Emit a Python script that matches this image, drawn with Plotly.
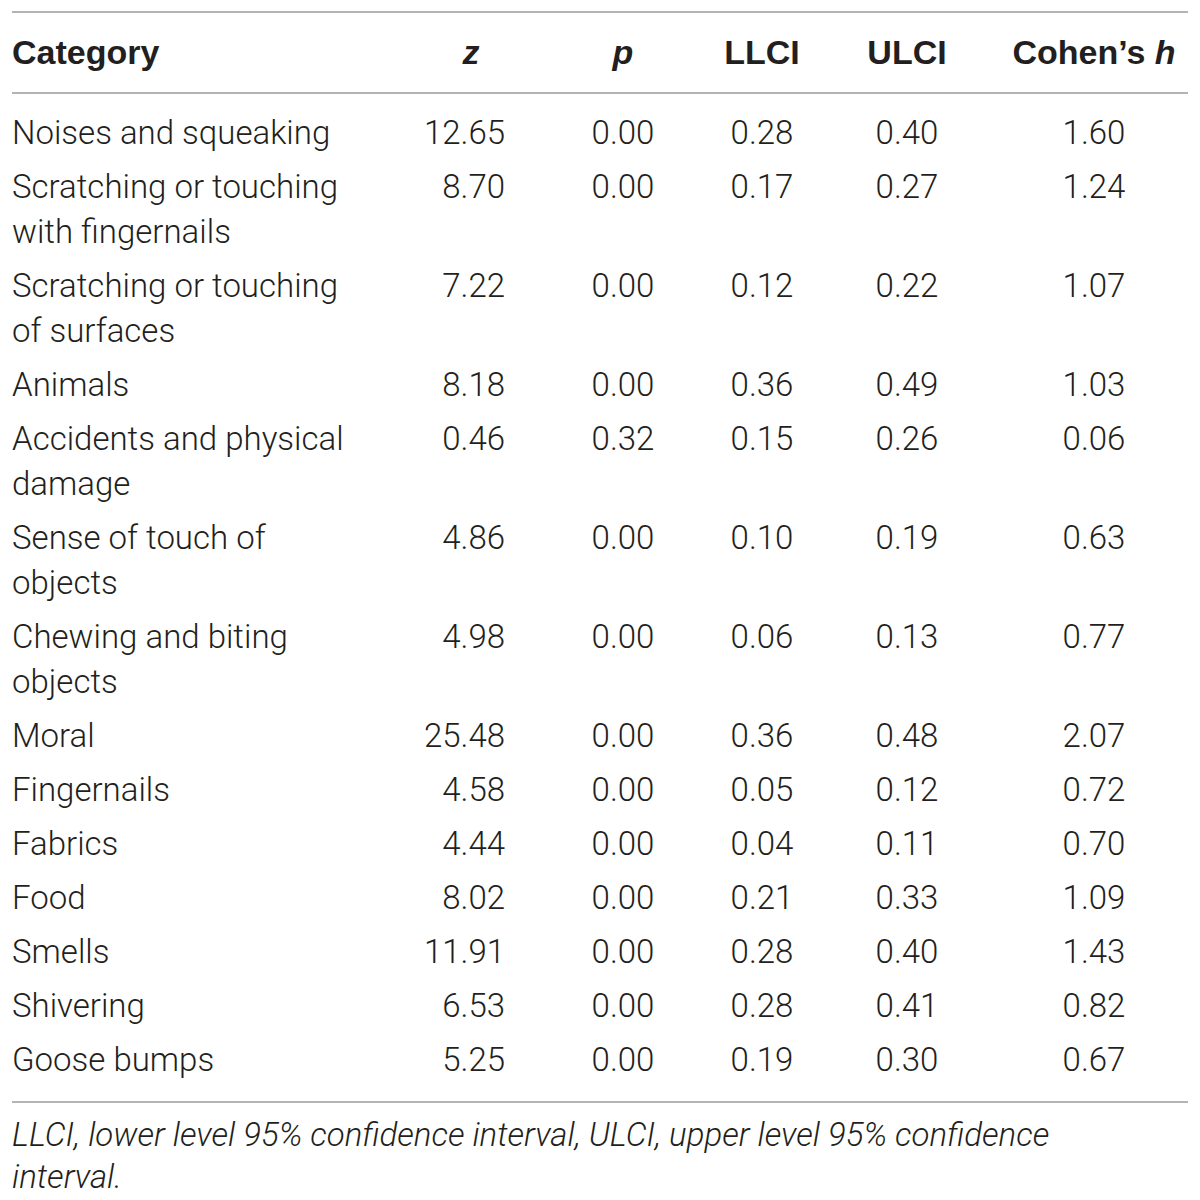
import plotly.graph_objects as go

# table content
CATEGORIES = [
    ["Noises and squeaking"],
    ["Scratching or touching", "with fingernails"],
    ["Scratching or touching", "of surfaces"],
    ["Animals"],
    ["Accidents and physical", "damage"],
    ["Sense of touch of", "objects"],
    ["Chewing and biting", "objects"],
    ["Moral"],
    ["Fingernails"],
    ["Fabrics"],
    ["Food"],
    ["Smells"],
    ["Shivering"],
    ["Goose bumps"],
]
Z = [12.65, 8.70, 7.22, 8.18, 0.46, 4.86, 4.98, 25.48, 4.58, 4.44, 8.02, 11.91, 6.53, 5.25]
P = [0.00, 0.00, 0.00, 0.00, 0.32, 0.00, 0.00, 0.00, 0.00, 0.00, 0.00, 0.00, 0.00, 0.00]
LLCI = [0.28, 0.17, 0.12, 0.36, 0.15, 0.10, 0.06, 0.36, 0.05, 0.04, 0.21, 0.28, 0.28, 0.19]
ULCI = [0.40, 0.27, 0.22, 0.49, 0.26, 0.19, 0.13, 0.48, 0.12, 0.11, 0.33, 0.40, 0.41, 0.30]
COHEN_H = [1.60, 1.24, 1.07, 1.03, 0.06, 0.63, 0.77, 2.07, 0.72, 0.70, 1.09, 1.43, 0.82, 0.67]
HEADERS = ["Category", "<i>z</i>", "<i>p</i>", "LLCI", "ULCI", "Cohen’s <i>h</i>"]
FOOTNOTE = ["LLCI, lower level 95% confidence interval, ULCI, upper level 95% confidence",
            "interval."]

FONT = "Roboto"
HEAD_FONT = "Liberation Sans"
TEXT_COLOR = "#231f20"
RULE_COLOR = "#b4b4b4"
SIZE = 33

# layout in page pixels (page body has an 8px margin, axes offset by it)
PAGE_OFF = 8
LEFT, RIGHT = 12, 1188
TOP_RULE, HEAD_Y, HEAD_RULE = 12, 55, 93
FIRST_ROW, ROW_STEP, LINE_STEP = 136, 54, 45
COL_X = {"cat": 12, "z": 505, "p": 623, "llci": 762, "ulci": 907, "h": 1094}
HEAD_X = [12, 471, 623, 762, 907, 1094]

# y position of every category line
row_y = []
line_x, line_y, line_t = [], [], []
y = FIRST_ROW
for lines in CATEGORIES:
    row_y.append(y)
    for k, t in enumerate(lines):
        line_x.append(COL_X["cat"])
        line_y.append(y + k * LINE_STEP)
        line_t.append(t)
    y += ROW_STEP + LINE_STEP * (len(lines) - 1)
bottom_rule = 1102

fig = go.Figure()

font = dict(family=FONT, size=SIZE, color=TEXT_COLOR, weight=300)

fig.add_trace(go.Scatter(x=line_x, y=line_y, text=line_t, mode="text",
                         textposition="middle right", textfont=font))
fig.add_trace(go.Scatter(x=[COL_X["z"]] * len(Z), y=row_y, text=[f"{v:.2f}" for v in Z],
                         mode="text", textposition="middle left", textfont=font))
for key, vals in [("p", P), ("llci", LLCI), ("ulci", ULCI), ("h", COHEN_H)]:
    fig.add_trace(go.Scatter(x=[COL_X[key]] * len(vals), y=row_y,
                             text=[f"{v:.2f}" for v in vals], mode="text",
                             textposition="middle center", textfont=font))

# header
head_font = dict(family=HEAD_FONT, size=34, color=TEXT_COLOR, weight="bold")
fig.add_trace(go.Scatter(x=HEAD_X[:1], y=[HEAD_Y], text=HEADERS[:1], mode="text",
                         textposition="middle right", textfont=head_font))
fig.add_trace(go.Scatter(x=HEAD_X[1:], y=[HEAD_Y] * 5, text=HEADERS[1:], mode="text",
                         textposition="middle center", textfont=head_font))

# footnote
foot_font = dict(family=FONT, size=SIZE, color=TEXT_COLOR, style="italic", weight=300)
fig.add_trace(go.Scatter(x=[LEFT, LEFT], y=[bottom_rule + 36, bottom_rule + 78], text=FOOTNOTE,
                         mode="text", textposition="middle right", textfont=foot_font))

for yy in [TOP_RULE, HEAD_RULE, bottom_rule]:
    fig.add_shape(type="line", x0=LEFT, x1=RIGHT, y0=yy, y1=yy, xref="x", yref="y",
                  line=dict(color=RULE_COLOR, width=2))

fig.update_layout(
    width=1200, height=1200, margin=dict(l=0, r=0, t=0, b=0),
    paper_bgcolor="white", plot_bgcolor="white", showlegend=False,
    xaxis=dict(range=[PAGE_OFF, 1200 + PAGE_OFF], visible=False, fixedrange=True),
    yaxis=dict(range=[1200 + PAGE_OFF, PAGE_OFF], visible=False, fixedrange=True),
)

fig.write_html("out.html")
